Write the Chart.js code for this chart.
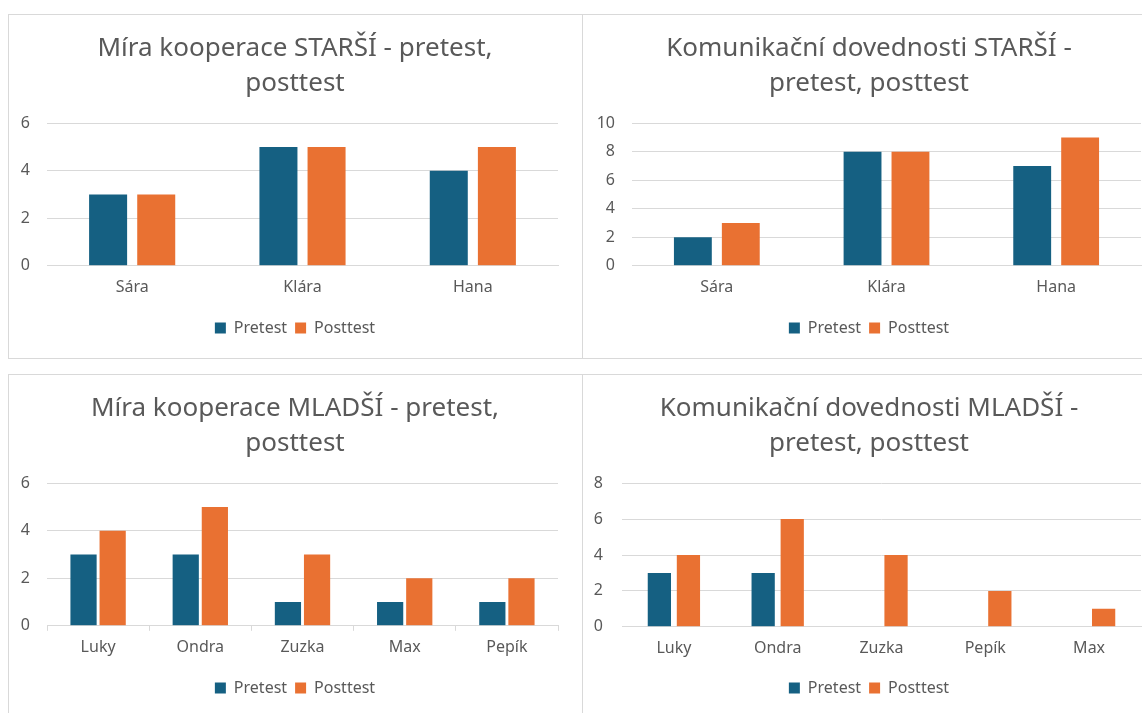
<!DOCTYPE html>
<html>
<head>
<meta charset="utf-8">
<script src="https://cdn.jsdelivr.net/npm/chart.js@4"></script>
<style>
  body { margin: 0; background: #fff; width: 1142px; height: 713px; overflow: hidden; position: relative; }
  .panel { position: absolute; border: 1px solid #d9d9d9; background: #fff; box-sizing: border-box; }
  .panel canvas { display: block; }
</style>
</head>
<body>
<div class="panel" id="p1" style="left:8px;top:14px;width:575px;height:345px"><canvas id="c1"></canvas></div>
<div class="panel" id="p2" style="left:582px;top:14px;width:572px;height:345px"><canvas id="c2"></canvas></div>
<div class="panel" id="p3" style="left:8px;top:374px;width:575px;height:350px"><canvas id="c3"></canvas></div>
<div class="panel" id="p4" style="left:582px;top:374px;width:572px;height:350px"><canvas id="c4"></canvas></div>
<script>
// Data
const jmenaStarsi = ["Sára", "Klára", "Hana"];
const koopStarsiPre = [3, 5, 4];
const koopStarsiPost = [3, 5, 5];

const komStarsiPre = [2, 8, 7];
const komStarsiPost = [3, 8, 9];

const jmenaMladsiKoop = ["Luky", "Ondra", "Zuzka", "Max", "Pepík"];
const koopMladsiPre = [3, 3, 1, 1, 1];
const koopMladsiPost = [4, 5, 3, 2, 2];

const jmenaMladsiKom = ["Luky", "Ondra", "Zuzka", "Pepík", "Max"];
const komMladsiPre = [3, 3, 0, 0, 0];
const komMladsiPost = [4, 6, 4, 2, 1];

const BLUE = "#156082";
const ORANGE = "#E97132";
const TEXT = "#595959";
const GRID = "#d9d9d9";
const FONT = "'Noto Sans', sans-serif";

function drawChart(id, title, labels, pre, post, yMax, opts) {
  const canvas = document.getElementById(id);
  const panel = canvas.parentElement;
  canvas.width = panel.clientWidth + 2;
  canvas.height = panel.clientHeight;
  canvas.style.width = canvas.width + "px";
  canvas.style.height = canvas.height + "px";

  new Chart(canvas, {
    type: "bar",
    data: {
      labels: labels,
      datasets: [
        { label: "Pretest", data: pre, backgroundColor: BLUE },
        { label: "Posttest", data: post, backgroundColor: ORANGE },
      ],
    },
    options: {
      responsive: false,
      animation: false,
      datasets: {
        bar: { categoryPercentage: opts.cat, barPercentage: opts.bar },
      },
      layout: { padding: opts.padding },
      plugins: {
        title: {
          display: true,
          text: title,
          color: TEXT,
          font: { family: FONT, size: 26, weight: "normal", lineHeight: 1.35 },
          padding: { top: 8, bottom: 22 },
        },
        legend: {
          position: "bottom",
          labels: {
            color: TEXT,
            font: { family: FONT, size: 16 },
            boxWidth: 11,
            boxHeight: 11,
            padding: 8,
          },
        },
        tooltip: { enabled: false },
      },
      scales: {
        x: {
          grid: {
            display: opts.ticks,
            drawOnChartArea: false,
            color: GRID,
            tickLength: 5,
          },
          border: { display: true, color: GRID },
          ticks: { color: TEXT, font: { family: FONT, size: 16 }, padding: 7 },
          afterFit: (scale) => { scale.height += opts.extra; },
        },
        y: {
          min: 0,
          max: yMax,
          ticks: { stepSize: 2, color: TEXT, font: { family: FONT, size: 16 }, padding: opts.ypad },
          grid: { color: GRID, drawTicks: false },
          border: { display: false },
          afterFit: (scale) => { scale.width = opts.yw; },
        },
        // empty right axis, only keeps space so that title and legend stay centred
        y2: {
          position: "right",
          min: 0,
          max: yMax,
          ticks: { display: false },
          grid: { display: false },
          border: { display: false },
          afterFit: (scale) => { scale.width = opts.rw; },
        },
      },
    },
  });
}

drawChart("c1", ["Míra kooperace STARŠÍ - pretest,", "posttest"],
  jmenaStarsi, koopStarsiPre, koopStarsiPost, 6,
  { cat: 0.565, bar: 0.79, ticks: false, extra: 8, yw: 38, ypad: 17, rw: 23,
    padding: { left: 0, right: 3, top: 8, bottom: 12 } });

drawChart("c2", ["Komunikační dovednosti STARŠÍ -", "pretest, posttest"],
  jmenaStarsi, komStarsiPre, komStarsiPost, 10,
  { cat: 0.565, bar: 0.79, ticks: false, extra: 8, yw: 49, ypad: 17, rw: 14,
    padding: { left: 0, right: 0, top: 8, bottom: 12 } });

drawChart("c3", ["Míra kooperace MLADŠÍ - pretest,", "posttest"],
  jmenaMladsiKoop, koopMladsiPre, koopMladsiPost, 6,
  { cat: 0.57, bar: 0.9, ticks: true, extra: 8, yw: 38, ypad: 17, rw: 23,
    padding: { left: 0, right: 3, top: 8, bottom: 17 } });

drawChart("c4", ["Komunikační dovednosti MLADŠÍ -", "pretest, posttest"],
  jmenaMladsiKom, komMladsiPre, komMladsiPost, 8,
  { cat: 0.56, bar: 0.8, ticks: false, extra: 7, yw: 39, ypad: 19, rw: 14,
    padding: { left: 0, right: 0, top: 8, bottom: 17 } });
</script>
</body>
</html>
